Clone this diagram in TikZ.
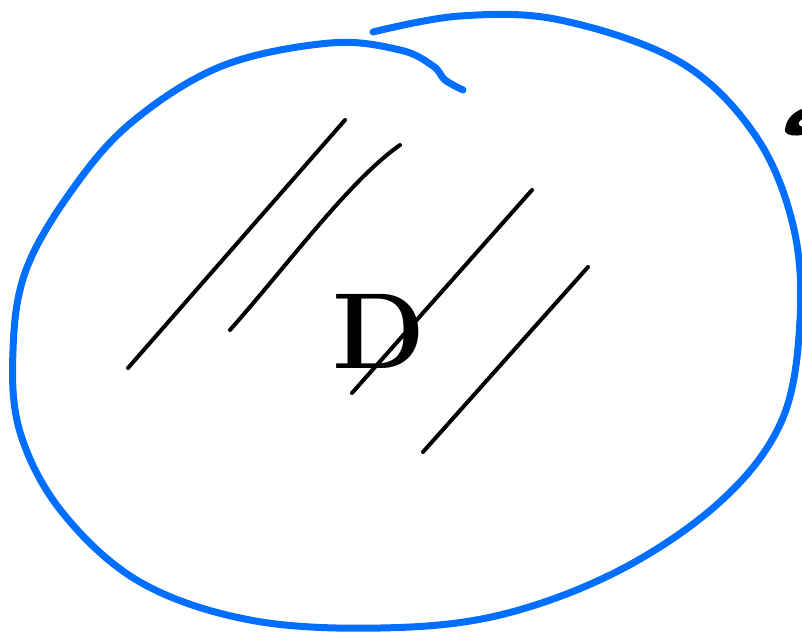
\documentclass[tikz,border=0pt]{standalone}
\begin{document}
\begin{tikzpicture}[x=1pt,y=-1pt,
  blueink/.style={draw={rgb,255:red,0;green,110;blue,255},line width=7pt,line cap=round,line join=round},
  hatch/.style={draw=black,line width=4pt,line cap=round}]
\useasboundingbox (0,0) rectangle (802,632);
% outline
\draw[blueink] plot[smooth,tension=0.6] coordinates {(373,32) (460,16) (560,20) (680,62) (755,135) (793,225) (800,320) (782,420) (722,500) (620,570) (500,615) (380,628) (250,620) (140,582) (62,512) (20,432) (13,350) (26,270) (72,190) (132,122) (222,66) (330,43) (400,50) (433,66) (445,80) (463,90)};
% hatching
\coordinate (h1a) at (128,368); \coordinate (h1b) at (345,120);
\coordinate (h2a) at (230,330); \coordinate (h2b) at (400,145);
\coordinate (h3a) at (352,393); \coordinate (h3b) at (532,190);
\coordinate (h4a) at (423,452); \coordinate (h4b) at (588,267);
\draw[hatch] (h1a) -- (h1b);
\draw[hatch] (h2a) .. controls (290,262) and (350,180) .. (h2b);
\draw[hatch] (h3a) -- (h3b);
\draw[hatch] (h4a) -- (h4b);
% label
\node (D) at (379,331) {\fontsize{108}{108}\selectfont\bfseries D};
% mark at right edge
\fill[line join=round,draw=black,line width=2pt] (786,131) .. controls (786,122) and (792,114) .. (802,110) -- (802,118) .. controls (797,121) and (795,125) .. (802,128) -- (802,134) .. controls (795,135) and (788,135) .. (786,131) -- cycle;
\end{tikzpicture}
\end{document}
